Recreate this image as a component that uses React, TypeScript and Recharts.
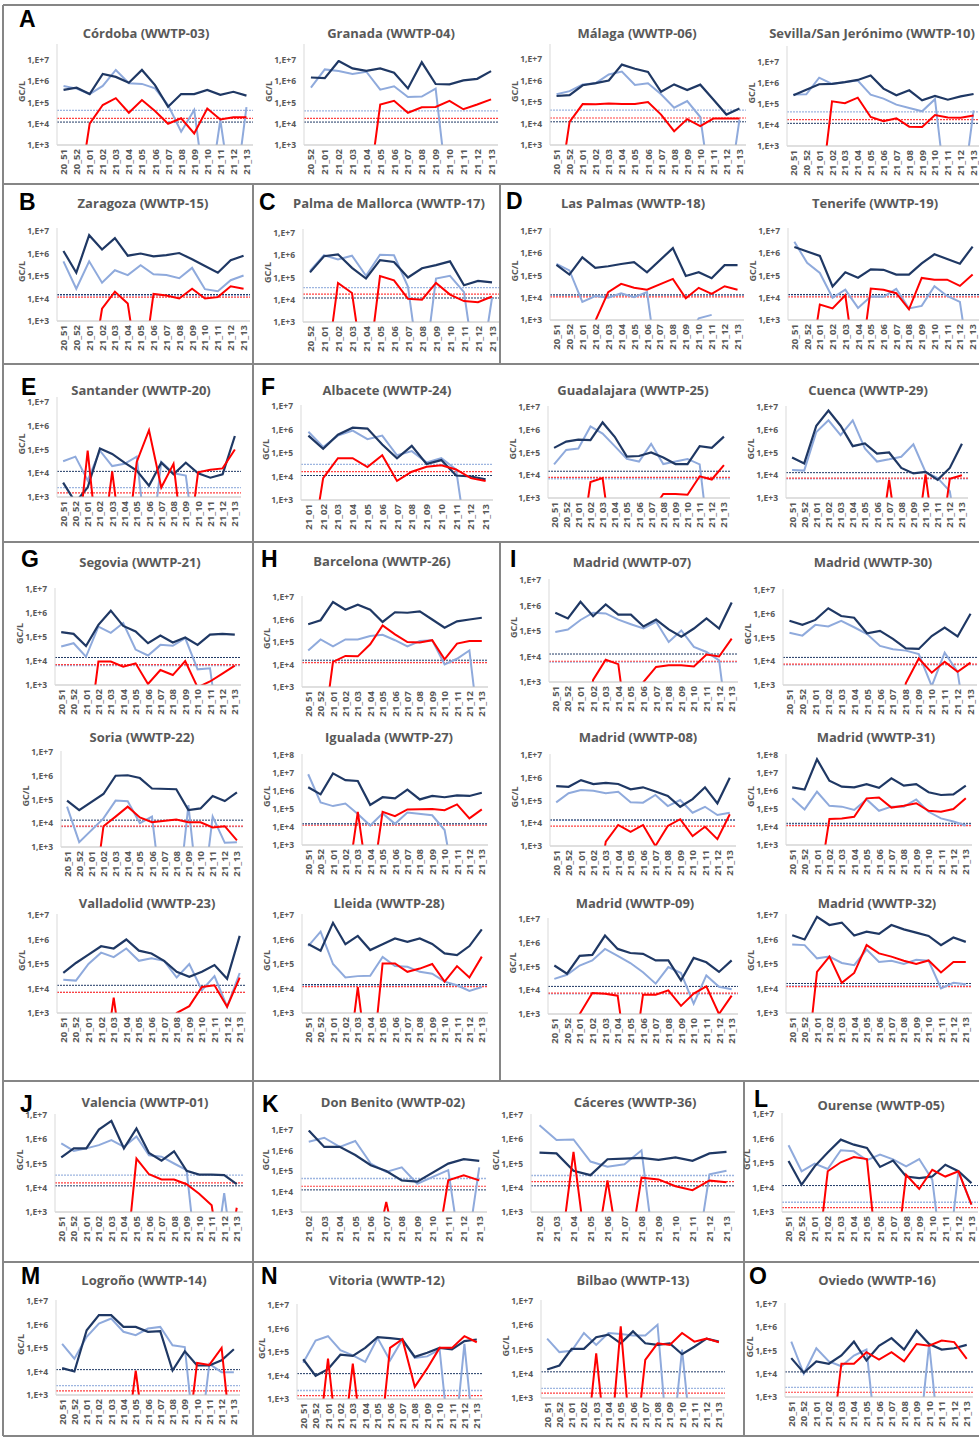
import { Line, LineChart, ReferenceLine, XAxis, YAxis } from 'recharts';

// Below the detection limit: drawn off the foot of the log axis, as in the original figure.
const Z = 1;

const WEEKS = ['20_51', '20_52', '21_01', '21_02', '21_03', '21_04', '21_05', '21_06', '21_07', '21_08', '21_09', '21_10', '21_11', '21_12', '21_13'];
const WEEKS_52 = WEEKS.slice(1);
const WEEKS_01 = WEEKS.slice(2);
const WEEKS_02 = WEEKS.slice(3);

// limits = [navy, blue, red] quantification limits (dotted lines)
const cordobaNavy = [3.9e5, 5e5, 2.5e5, 2.2e6, 1.6e6, 8.5e5, 3.4e6, 6.6e5, 6.3e4, 2.5e5, 2.5e5, 3.9e5, 2.3e5, 3.2e5, 2.1e5];
const cordobaBlue = [6e5, 4.5e5, 2.5e5, 6e5, 3.4e6, 8e5, 7.5e5, 4.6e5, 7.5e4, 4.2e3, 4.5e4, Z, 1.5e4, Z, 6e4];
const cordobaRed = [Z, Z, 1e4, 7.6e4, 1.6e5, 3.3e4, 1.3e5, 4e4, 1e4, 1.8e4, 3.5e3, 5.2e4, 1.6e4, 2e4, 2e4];
const cordobaLimits = [1.2e4, 4.3e4, 1.8e4];

const granadaNavy = [1.5e6, 1.4e6, 9e6, 4e6, 3.1e6, 4e6, 2.5e6, 4.6e5, 7.8e6, 7.4e5, 7.2e5, 1.1e6, 1.3e6, 3e6];
const granadaBlue = [5e5, 3.6e6, 3e6, 2.2e6, 2.8e6, 4e5, 5.8e5, 1.8e5, 1.9e5, 4.5e5, Z, null, null, null];
const granadaRed = [Z, Z, Z, Z, Z, 8e4, 1.2e5, 3.3e4, 6e4, 6.2e4, 1.2e5, 4.8e4, 8e4, 1.4e5];
const granadaLimits = [1.2e4, 4e4, 1.8e4];

const malagaNavy = [1.9e5, 2.1e5, 6e5, 7.5e5, 1e6, 5.5e6, 3.5e6, 2.5e6, 3e5, 6.6e5, 3.6e5, 6.4e5, 1.3e5, 2.6e4, 5e4];
const malagaBlue = [2.3e5, 3.2e5, 6.5e5, 7.5e5, 1.9e6, 2.6e6, 6.2e5, 7.5e5, 2.3e5, 5.4e4, 1.1e5, 2e4, Z, Z, 1.5e4];
const malagaRed = [Z, 1.2e4, 8e4, 7.8e4, 8.5e4, 8e4, 8e4, 1e5, 2.6e4, 4.4e3, 1.6e4, 7.5e3, 1.7e4, 1.7e4, 1.7e4];
const malagaLimits = [1.2e4, 4.2e4, 1.8e4];

const sevillaNavy = [2.6e5, 4.8e5, 8.7e5, 9e5, 1.1e6, 1.4e6, 2.3e6, 5.4e5, 2.6e5, 4.5e5, 1.5e5, 2.4e5, 1.6e5, 2.3e5, 3e5];
const sevillaBlue = [2.8e5, 2.9e5, 1.8e6, 9e5, 1.1e6, 1.3e6, 2.8e5, 1.8e5, 9.3e4, 6.5e4, 4.5e4, 1.7e5, Z, Z, 5e4];
const sevillaRed = [Z, Z, Z, 1.35e5, 1.1e5, 2e5, 2.4e4, 1.5e4, 2.1e4, 8.3e3, 8e3, 3e4, 2.3e4, 2.2e4, 2.8e4];
const sevillaLimits = [1.2e4, 4.2e4, 1.8e4];

const zaragozaNavy = [1.3e6, 1.4e5, 6.5e6, 1.5e6, 4.8e6, 8e5, 1e6, 7.5e5, 8.5e5, 1.05e6, 5.5e5, 2.8e5, 1.4e5, 5e5, 8e5];
const zaragozaBlue = [4.5e5, 2.7e4, 4.5e5, 5e4, 1.8e5, 1.1e5, 3e5, 1.2e5, 1.1e5, 8e4, 2.3e5, 2.6e4, 2.1e4, 6.5e4, 1.05e5];
const zaragozaRed = [Z, Z, Z, 3.5e3, 2e4, 6e3, Z, 1.6e4, 1.35e4, 1e4, 2.7e4, 1e4, 1.15e4, 3.5e4, 2.7e4];
const zaragozaLimits = [1.5e4, 1.35e4, 1.15e4];

const palmaNavy = [1.7e5, 9e5, 1.1e6, 2.7e5, 9e4, 6e5, 5e5, 1e5, 2.6e5, 3.6e5, 5.3e5, 4.5e4, 7e4, 6e4];
const palmaBlue = [2e5, 1e6, 6.5e5, 9.5e5, 1.2e5, 1.05e6, 1e6, 3.8e4, Z, 9e4, 1.2e5, 2.2e4, Z, 1.2e4];
const palmaRed = [Z, Z, 5.7e4, 2e4, Z, 1.15e5, 7.5e4, 1.1e4, 1e4, 5.7e4, 1.7e4, 8.7e3, 7.8e3, 1.4e4];
const palmaLimits = [1.2e4, 3.5e4, 1.8e4];

const lasPalmasNavy = [3e5, 1.1e5, 6.5e5, 2.2e5, 2.6e5, 3.3e5, 4e5, 1.4e5, null, 1.7e6, 9.5e4, 1.4e5, 7.5e4, 2.9e5, 2.9e5];
const lasPalmasBlue = [3.3e5, 1.7e5, 6.5e3, 1.2e4, 1e4, 1.6e4, 1.05e4, 1.8e4, Z, null, null, 1.2e3, 1.7e3, null, null];
const lasPalmasRed = [null, null, null, 9e2, 1.8e4, 4.2e4, 2.8e4, 2.3e4, null, 7e4, 9.5e3, 2.8e4, 1.5e4, 3.3e4, 2.3e4];
const lasPalmasLimits = [1.35e4, 1.3e4, 1.1e4];

const tenerifeNavy = [1.9e6, 1.2e6, 7.6e5, 3.2e4, 1.4e5, 8e4, 1.9e5, 1.8e5, 1.1e5, 1.1e5, 3.5e5, 9e5, 5.5e5, 3.4e5, 2e6];
const tenerifeBlue = [3.3e6, 3.7e5, 1.3e5, 1e4, 2.3e4, 3.5e3, 1.15e4, 1.1e4, 2.5e4, 3.3e3, 4.3e3, 3.3e4, 1.2e4, 6.5e3, Z];
const tenerifeRed = [null, Z, 5e3, 3.3e3, 1.3e4, Z, 2.6e4, 2.3e4, 1.6e4, 3e3, 7.8e4, 6.5e4, 6.5e4, 3.4e4, 1.1e5];
const tenerifeLimits = [1.4e4, 1.3e4, 1.1e4];

const santanderNavy = [4e3, 6e2, 2.5e3, 1.1e5, 6.5e4, 2.8e4, 1.3e4, 3e3, 2.8e4, 9e3, 2.8e4, 1e4, 6.5e3, 9e3, 3.7e5];
const santanderBlue = [3.2e4, 5e4, 5e3, 9e4, 2e4, 2.5e4, 5e4, Z, 3e4, 1e4, 8e3, Z, null, null, null];
const santanderRed = [Z, Z, 9e4, Z, 1.2e4, Z, 3e4, 6.5e5, 2.5e3, 2.5e4, Z, 1.1e4, 1.4e4, 1.6e4, 1e5];
const santanderLimits = [1.2e4, 2.5e3, 1.5e3];

const albaceteNavy = [5.5e5, 1.5e5, 6e5, 1.2e6, 1.1e6, 2.3e5, 5.9e4, 2e5, 3.4e4, 5e4, 1.1e4, 1e4, 7.5e3];
const albaceteBlue = [8e5, 1.8e5, 5.5e5, 9e5, 3.9e5, 5.5e5, 8e4, 1.2e5, 4e4, 6e4, 2e4, Z, null];
const albaceteRed = [Z, 8.5e3, 6e4, 6e4, 2.5e4, 8e4, 6.5e3, 1.6e4, 2.6e4, 3e4, 2e4, 8.5e3, 6.5e3];
const albaceteLimits = [1.1e4, 3.3e4, 1.6e4];

const guadalajaraNavy = [1.6e5, 3e5, 3.7e5, 3.5e5, 2.1e6, 4.9e5, 6.6e4, 7e4, 1e5, 6e4, 3.1e4, 3.1e4, 1.9e5, 1.6e5, 5e5];
const guadalajaraBlue = [3e4, 1.3e5, 1.5e5, 1.4e6, 6.8e5, 1.9e5, 5.2e4, 4e4, 2.4e5, 3.1e4, 4e4, 5.2e4, 3e4, Z, null];
const guadalajaraRed = [null, null, Z, 5e3, 7.5e3, Z, null, null, null, 1.5e3, 1.5e3, 1.4e3, 9e3, 6.5e3, 2.8e4];
const guadalajaraLimits = [1.5e4, 7e3, 8e3];

const cuencaNavy = [6e4, 3.3e4, 1.5e6, 7e6, 1.5e6, 1.9e5, 2.5e5, 9e4, 1e5, 2.1e4, 1.2e4, 1.4e4, 6.3e3, 2.1e4, 2.4e5];
const cuencaBlue = [1.7e4, 1.6e4, 8e5, 2.6e6, 5.8e5, 2.6e6, 1.5e5, 4e4, 5e4, 6.5e4, 2.3e5, 1.4e4, 7.5e3, 2e3, Z];
const cuencaRed = [Z, Z, Z, Z, Z, Z, Z, Z, 6.3e3, Z, Z, 1.1e4, Z, 7e3, 1e4];
const cuencaLimits = [1.3e4, 7e3, 7.5e3];

const segoviaNavy = [1.6e5, 1.35e5, 4.2e4, 3.2e5, 1.25e6, 2.9e5, 1.7e5, 5.5e4, 1.15e5, 5.9e4, 9.5e4, 4.7e4, 1.25e5, 1.35e5, 1.25e5];
const segoviaBlue = [4e4, 5.5e4, 1.5e4, 2.7e5, 1.5e5, 3.8e5, 3e4, 1.7e4, 4.7e4, 4.3e4, 9e4, 4.5e3, 5e3, Z, null];
const segoviaRed = [null, null, Z, 9.5e3, 9.5e3, 5.8e3, 8e3, 1.1e3, 4.2e3, 2.6e3, 1e4, 8e2, 1.4e3, 3e3, 6.4e3];
const segoviaLimits = [1.4e4, 6.5e3, 7e3];

const soriaNavy = [9e4, 3.55e4, null, 1.7e5, 1e6, 1.05e6, 8e5, 2.9e5, null, 2.7e5, 3.6e4, 4.2e4, 1.4e5, 8.6e4, 2e5];
const soriaBlue = [5e4, 1.6e3, null, 1.6e4, 9e4, 8.5e4, 1e4, 1.9e4, Z, Z, 5.8e4, Z, 1.9e4, 1.5e3, 1.6e3];
const soriaRed = [null, null, Z, 7.5e3, 1.9e4, 5e4, 1.75e4, 1.1e4, null, 1.45e4, 1.1e4, 1.1e4, 6.6e3, 7.5e3, 1.9e3];
const soriaLimits = [1.35e4, 7.2e3, 7.5e3];

const valladolidNavy = [4.3e4, 1.1e5, 2.4e5, 5.3e5, 4.3e5, 1e6, 3.5e5, 2.7e5, 1.35e5, 4.8e4, 3e4, 4.8e4, 9e4, 2.5e4, 1.4e6];
const valladolidBlue = [2.3e4, 2.1e4, 1e5, 2.9e5, 1.9e5, 4.3e5, 1.35e5, 1.7e5, 1.35e5, 2.8e4, 1e5, 8.5e3, 3.2e4, 1.8e3, 4.3e4];
const valladolidRed = [Z, Z, Z, Z, 4.2e3, Z, Z, Z, Z, 1e3, 1.9e3, 1.15e4, 1.35e4, 1.8e3, 2.8e4];
const valladolidLimits = [1.35e4, 7e3, 7e3];

const barcelonaNavy = [6.1e5, 9.3e5, 6e6, 2.7e6, 4.5e6, 2.7e6, 7.8e5, 2.1e6, 2e6, 2.3e6, 1e6, 4.3e5, 8.3e5, 1e6, 1.2e6];
const barcelonaBlue = [4.2e4, 1.3e5, 6.4e4, 1.3e5, 1.3e5, 1.85e5, 2.1e5, 1.2e5, 6.4e4, 1.1e5, 1.2e5, 1e4, 1.8e4, 4.2e4, Z];
const barcelonaRed = [Z, Z, 1.3e4, 2.4e4, 2.3e4, 7.9e4, 5.5e5, 2.2e5, 1e5, 9.4e4, 1.2e5, 1.7e4, 8.5e4, 1.1e5, 1.1e5];
const barcelonaLimits = [1.55e4, 1.25e4, 1.2e4];

const igualadaNavy = [1.6e6, 6.5e5, 9.5e6, 4e6, 3.6e6, 1.7e5, 4.5e5, 3.9e5, 1.2e6, 3.4e5, 5.3e5, 4.5e5, 5.7e5, 5.3e5, 8e5];
const igualadaBlue = [8.5e6, 2.3e5, 1.45e5, 2e5, 5.3e4, 1.2e4, 5.7e4, 1.5e4, 6.3e4, null, 4.5e4, 6.8e3, Z, null, null];
const igualadaRed = [Z, Z, Z, Z, 7e4, Z, 7e4, 4e4, 9.5e4, null, 1e5, 8.5e4, 1.8e5, 3e4, 9.5e4];
const igualadaLimits = [1.5e4, 1.5e4, 1.25e4];

const lleidaNavy = [6.6e5, 3.5e5, 4.8e6, 6.4e5, 1.4e6, 3.7e5, 6.4e5, 1.1e6, 8e5, 1.1e6, 6.6e5, 2.7e5, 2.3e5, 5.4e5, 2.6e6];
const lleidaBlue = [5.4e5, 2.1e6, 1e5, 2.8e4, 3.2e4, 3.3e4, 1.95e5, 8.2e4, 7.7e4, 4.8e4, 4e4, 1.9e4, 1.35e4, 8e3, 1.15e4];
const lleidaRed = [Z, Z, Z, Z, 1.15e4, Z, 1.05e5, 1.05e5, 4.8e4, 6.5e4, 1e5, 1.9e4, 8.2e4, 2.8e4, 2e5];
const lleidaLimits = [1.45e4, 1.35e4, 1.2e4];

const madrid07Navy = [5.2e5, 3.1e5, 1.4e6, 3.8e5, 1.1e6, 4.4e5, 4.4e5, 1.5e5, 2.8e5, 1.15e5, 6e4, 1.25e5, 3.1e5, 1.25e5, 1.3e6];
const madrid07Blue = [9.2e4, 1.15e5, 2.7e5, 5.2e5, 4.9e5, 2.8e5, 1.85e5, 1.25e5, 2.3e5, 3.7e4, 1.05e5, 2.4e4, 1.5e4, 7e3, Z];
const madrid07Red = [null, Z, Z, 1.2e3, 7.5e3, 5e3, Z, 1e3, 3.9e3, 4.5e3, 4.5e3, 4.1e3, 1.2e4, 1e4, 5e4];
const madrid07Limits = [1.25e4, 6e3, 6.5e3];

const madrid30Navy = [5.1e5, 3.4e5, 5.5e5, 1.7e6, 8e5, 6.8e5, 1.5e5, 1.9e5, 8.7e4, 3.5e4, 3.3e4, 1.15e5, 2.6e5, 1.1e5, 1e6];
const madrid30Blue = [1.6e5, 1.2e5, 3.4e5, 2.9e5, 5e5, 2.7e5, 1.4e5, 4.4e4, 3.2e4, 2.8e4, 2e4, 9e2, 2.3e4, 3.6e3, Z];
const madrid30Red = [Z, Z, Z, Z, Z, Z, Z, Z, Z, 1.2e3, 1.3e4, 3.3e3, 9.6e3, 3.6e3, 8.7e3];
const madrid30Limits = [1.45e4, 7e3, 7.5e3];

const madrid08Navy = [4.3e5, 4e5, 7.9e5, 5.3e5, 6e5, 5.3e5, 3.1e5, 3.8e5, 2.5e5, 1.6e5, 5.3e4, 1.15e5, 3.8e5, 7.5e4, 1e6];
const madrid08Blue = [8.3e4, 2.1e5, 2.9e5, 2.7e5, 2.1e5, 2.4e5, 8.3e4, 8e4, 1.75e5, 5.7e4, 1.05e5, 2.9e4, 5.3e4, 2.3e4, 2.9e4];
const madrid08Red = [null, null, null, Z, 1.55e3, 8.4e3, 4.2e3, 8.4e3, 1e3, 7.6e3, 1.5e4, 2.75e3, 7e3, 2e3, 2.5e4];
const madrid08Limits = [1.4e4, 1.35e4, 7.5e3];

const madrid31Navy = [1.6e6, 1.2e6, 5.8e7, 3.7e6, 1.75e6, 1.6e6, 2.4e6, 1.5e6, 5e6, 2e6, 2.4e6, 8.5e5, 6e5, 6.5e5, 2e6];
const madrid31Blue = [3.9e5, 9.5e4, 9.1e5, 1.5e5, 1.35e5, 8.8e4, 3.4e5, 8e4, 1.35e5, 1.35e5, 3.4e5, 7e4, 3e4, 2e4, 1.2e4];
const madrid31Red = [null, null, Z, 2.8e4, 3e4, 3.7e4, 3.9e5, 4.4e5, 1.2e5, 1.5e5, 2.1e5, 8e4, 7e4, 1e5, 3.9e5];
const madrid31Limits = [1.6e4, 1.3e4, 1.2e4];

const madrid09Navy = [1.1e5, 5e4, 2.8e5, 3.1e5, 2e6, 5.5e5, 3.7e5, 3.4e5, 1.8e5, 1.8e5, 2.6e4, 2.3e5, 1.5e5, 5.9e4, 1.8e5];
const madrid09Blue = [3e4, 4.5e4, 1.1e5, 1.8e5, 5.5e5, 2.8e5, 1.4e5, 5.7e4, 1.9e4, 9.5e4, 5.3e4, 2.7e3, 4.2e4, 1.4e4, 1.1e4];
const madrid09Red = [null, Z, 1e3, 7.7e3, 7.2e3, 5.9e3, Z, 6.5e3, 6.5e3, 9.9e3, 2.2e3, 7.2e3, 1.45e4, 1e3, 5.9e3];
const madrid09Limits = [1.45e4, 7e3, 7.5e3];

const madrid32Navy = [1.5e6, 1e6, 8.5e6, 3.9e6, 4.9e6, 1.45e6, 2.1e6, 1.7e6, 3.9e6, 2.6e6, 1.9e6, 1.4e6, 5.9e5, 1.2e6, 8e5];
const madrid32Blue = [6.3e5, 5.9e5, 1.7e5, 2e5, 1.1e5, 9e4, 3.9e5, 1.2e5, 1.35e5, 1e5, 1.5e5, 1.35e5, 1e4, 1.7e4, 1.5e4];
const madrid32Red = [null, Z, 4.8e4, 2e5, 1.7e4, 4.3e4, 5.9e5, 2.7e5, 2e5, 1.35e5, 1e5, 1.4e5, 4.5e4, 1.2e5, 1.2e5];
const madrid32Limits = [1.6e4, 1.3e4, 1.2e4];

const valenciaNavy = [1.8e5, 4.2e5, 4.2e5, 2.5e6, 5.7e6, 4.2e5, 2.8e6, 2.7e5, 1.3e5, 3.2e5, 5e4, 3.5e4, 3.5e4, 3.3e4, 1.4e4];
const valenciaBlue = [6.7e5, 3.3e5, 4.2e5, 5.7e5, 9.3e5, 4.9e5, 1.3e6, 2.2e5, 1.9e5, 1e5, 5.3e4, Z, Z, 6e3, Z];
const valenciaRed = [null, null, null, null, null, Z, 1.6e5, 3.6e4, 2.2e4, 2.2e4, 1.4e4, 5.7e3, 1.9e3, Z, 1.5e3];
const valenciaLimits = [1.2e4, 3.3e4, 1.6e4];

const donBenitoNavy = [9.5e6, 1.5e6, 1.5e6, 6e5, 1.9e5, 1e5, 3.5e4, 3e4, null, 2.3e5, 3.8e5, 3.1e5];
const donBenitoBlue = [2.7e6, 4.2e6, 1.5e6, 2.9e6, 2.3e5, 9.1e4, 1.5e5, 2.4e4, null, 1.1e5, Z, 1.5e5];
const donBenitoRed = [Z, Z, Z, Z, Z, 3.1e3, Z, Z, Z, 3.5e4, 6.2e4, 3.5e4];
const donBenitoLimits = [1.2e4, 4.3e4, 1.8e4];

const caceresNavy = [2.8e5, 2.6e5, 5e4, 3.3e4, 1.5e5, 1.6e5, 1.7e5, 1.4e5, 1.8e5, 1.3e5, 2.6e5, 3e5];
const caceresBlue = [3.8e6, 9.3e5, 9.8e5, 1.2e5, 7.3e4, 9.3e4, 3.5e5, Z, null, Z, 3.6e4, 5e4];
const caceresRed = [Z, Z, 3e5, Z, 2e4, Z, 2.6e4, 2.2e4, 1.15e4, 7.9e3, 2e4, 1.7e4];
const caceresLimits = [1.2e4, 3.2e4, 1.8e4];

const ourenseNavy = [1.2e5, 1.3e4, 7.3e4, 2.7e5, 9e5, 5.6e5, 4.1e5, 6.9e4, 1.25e5, 2.8e4, 2.4e4, 2.8e4, 8.5e4, 4.6e4, 1.5e4];
const ourenseBlue = [5.3e5, 4.6e4, 9.4e4, 5.7e4, 3.3e5, 3e5, 1.3e5, 2.2e5, 1.4e5, 7.3e4, 1.45e5, 2.1e4, Z, 4.5e4, 2e3];
const ourenseRed = [null, null, Z, 4.6e4, 1.07e5, 1.75e5, 1.45e5, Z, Z, 3.3e4, 8.7e3, 5.3e4, 2.8e4, 4.6e4, 2e3];
const ourenseLimits = [1.2e4, 2.5e3, 1.5e3];

const logronoNavy = [1.4e4, 1e4, 5.7e5, 2.5e6, 2.5e6, 7.9e5, 7.9e5, 4.9e5, 5.2e5, 1.1e4, 7.2e4, 1.8e4, 1.8e4, 3e4, 8.8e4];
const logronoBlue = [1.5e5, 3.5e4, 3e5, 1.1e6, 1.8e6, 4.9e5, 3.5e5, 6.7e5, 7.9e5, 1.3e5, 1.1e5, Z, 2.1e4, 9.4e3, 9.4e3];
const logronoRed = [Z, Z, Z, Z, Z, Z, 1.1e4, Z, Z, Z, Z, 2.3e4, 1.9e4, 1e5, Z];
const logronoLimits = [1.2e4, 2.5e3, 1.5e3];

const vitoriaNavy = [4.9e4, 9.7e3, 1.85e4, 7.7e4, 6.8e4, 1.5e5, 4.3e5, 3.9e5, 3.4e5, 6.2e4, 9.3e4, 1.5e5, 1.3e5, 2.9e5, 3.4e5];
const vitoriaBlue = [3.5e4, 3.1e5, 4.7e5, 1.2e5, 7.2e4, 3.8e4, 3.9e5, 4.4e4, 3.4e5, 5.6e4, 6.5e4, 1.3e5, Z, 2.2e5, Z];
const vitoriaRed = [Z, Z, 5.2e4, Z, 3.2e4, Z, Z, 1.5e5, 3.5e5, 3.3e3, 2e4, 1.5e5, 1.5e5, 4.7e5, 2.6e5];
const vitoriaLimits = [1.2e4, 2.3e3, 1.4e3];

const bilbaoNavy = [1.5e4, 2.2e4, 1.07e5, 1.07e5, 3.2e5, 4.1e5, 1.8e5, 5.6e5, 1.8e5, 1.55e5, 1.8e5, 6.4e4, 1.3e5, 2.8e5, 2.1e5];
const bilbaoBlue = [2.8e5, 7.8e4, 8.8e4, 4.8e5, 1.55e5, 4.8e5, 4.4e5, 3.8e5, 3.8e5, 1.05e6, Z, 1e5, Z, null, null];
const bilbaoRed = [null, null, null, Z, 7e4, Z, 9e5, Z, 3.7e4, 1.8e5, 1.55e5, 4.8e5, 2.1e5, 2.8e5, 2e5];
const bilbaoLimits = [1.2e4, 2.5e3, 1.6e3];

const oviedoNavy = [4.7e4, 1.1e4, 3.4e4, 2.7e4, 6.1e4, 2.4e5, 3.7e4, 1.6e5, 3.4e5, 1.1e5, 7.2e5, 1.9e5, 1.1e5, 1.25e5, 1.75e5];
const oviedoBlue = [2.4e5, 1e4, 1.25e5, 3.4e4, 2.1e4, 6.1e4, 1.1e5, Z, Z, Z, Z, 2e5, Z, Z, Z];
const oviedoRed = [null, null, null, Z, 2.7e4, 2.7e4, 8.5e4, 4.1e4, 8.5e4, 3.4e4, 1.9e5, 1.6e5, 2.7e5, 2.3e5, 4.4e4];
const oviedoLimits = [1.2e4, 2.6e3, 1.6e3];

const NAVY = '#1F3864';
const BLUE = '#8FAADC';
const RED = '#FF0000';
const GREY_TEXT = '#595959';
const FONT = "'Open Sans', 'DejaVu Sans', sans-serif";

const Y_W = 44;
const X_H = 36;
const M_TOP = 6;

type Series = (number | null)[];

interface Box {
    axisX: number;
    right: number;
    top: number;
    tickTop: number;
    bottom: number;
    titleX: number;
    titleY: number;
    topExp?: number;
}

interface ChartSpec {
    title: string;
    weeks: string[];
    navy: Series;
    blue: Series;
    red: Series;
    limits: number[];
    box: Box;
}

const charts: ChartSpec[] = [
    { title: 'Córdoba (WWTP-03)', weeks: WEEKS, navy: cordobaNavy, blue: cordobaBlue, red: cordobaRed, limits: cordobaLimits,
        box: { axisX: 57, right: 253, top: 44, tickTop: 60, bottom: 145, titleX: 146, titleY: 38 } },
    { title: 'Granada (WWTP-04)', weeks: WEEKS_52, navy: granadaNavy, blue: granadaBlue, red: granadaRed, limits: granadaLimits,
        box: { axisX: 304, right: 498, top: 44, tickTop: 60, bottom: 145, titleX: 391, titleY: 38 } },
    { title: 'Málaga (WWTP-06)', weeks: WEEKS, navy: malagaNavy, blue: malagaBlue, red: malagaRed, limits: malagaLimits,
        box: { axisX: 550, right: 746, top: 44, tickTop: 59, bottom: 145, titleX: 637, titleY: 38 } },
    { title: 'Sevilla/San Jerónimo (WWTP-10)', weeks: WEEKS, navy: sevillaNavy, blue: sevillaBlue, red: sevillaRed, limits: sevillaLimits,
        box: { axisX: 787, right: 980, top: 46, tickTop: 62, bottom: 146, titleX: 872, titleY: 38 } },

    { title: 'Zaragoza (WWTP-15)', weeks: WEEKS, navy: zaragozaNavy, blue: zaragozaBlue, red: zaragozaRed, limits: zaragozaLimits,
        box: { axisX: 57, right: 250, top: 228, tickTop: 231, bottom: 321, titleX: 143, titleY: 208 } },
    { title: 'Palma de Mallorca (WWTP-17)', weeks: WEEKS_52, navy: palmaNavy, blue: palmaBlue, red: palmaRed, limits: palmaLimits,
        box: { axisX: 303, right: 499, top: 229, tickTop: 233, bottom: 322, titleX: 389, titleY: 208 } },
    { title: 'Las Palmas (WWTP-18)', weeks: WEEKS, navy: lasPalmasNavy, blue: lasPalmasBlue, red: lasPalmasRed, limits: lasPalmasLimits,
        box: { axisX: 550, right: 744, top: 228, tickTop: 231, bottom: 320, titleX: 633, titleY: 208 } },
    { title: 'Tenerife (WWTP-19)', weeks: WEEKS, navy: tenerifeNavy, blue: tenerifeBlue, red: tenerifeRed, limits: tenerifeLimits,
        box: { axisX: 788, right: 979, top: 228, tickTop: 231, bottom: 320, titleX: 875, titleY: 208 } },

    { title: 'Santander (WWTP-20)', weeks: WEEKS, navy: santanderNavy, blue: santanderBlue, red: santanderRed, limits: santanderLimits,
        box: { axisX: 57, right: 241, top: 397, tickTop: 402, bottom: 497, titleX: 141, titleY: 395 } },
    { title: 'Albacete (WWTP-24)', weeks: WEEKS_01, navy: albaceteNavy, blue: albaceteBlue, red: albaceteRed, limits: albaceteLimits,
        box: { axisX: 301, right: 493, top: 405, tickTop: 406, bottom: 500, titleX: 387, titleY: 395 } },
    { title: 'Guadalajara (WWTP-25)', weeks: WEEKS, navy: guadalajaraNavy, blue: guadalajaraBlue, red: guadalajaraRed, limits: guadalajaraLimits,
        box: { axisX: 548, right: 730, top: 406, tickTop: 407, bottom: 498, titleX: 633, titleY: 395 } },
    { title: 'Cuenca (WWTP-29)', weeks: WEEKS, navy: cuencaNavy, blue: cuencaBlue, red: cuencaRed, limits: cuencaLimits,
        box: { axisX: 786, right: 968, top: 406, tickTop: 407, bottom: 498, titleX: 868, titleY: 395 } },

    { title: 'Segovia (WWTP-21)', weeks: WEEKS, navy: segoviaNavy, blue: segoviaBlue, red: segoviaRed, limits: segoviaLimits,
        box: { axisX: 55, right: 241, top: 588, tickTop: 589, bottom: 685, titleX: 140, titleY: 567 } },
    { title: 'Barcelona (WWTP-26)', weeks: WEEKS, navy: barcelonaNavy, blue: barcelonaBlue, red: barcelonaRed, limits: barcelonaLimits,
        box: { axisX: 302, right: 488, top: 596, tickTop: 597, bottom: 687, titleX: 382, titleY: 566 } },
    { title: 'Madrid (WWTP-07)', weeks: WEEKS, navy: madrid07Navy, blue: madrid07Blue, red: madrid07Red, limits: madrid07Limits,
        box: { axisX: 549, right: 738, top: 579, tickTop: 580, bottom: 682, titleX: 632, titleY: 567 } },
    { title: 'Madrid (WWTP-30)', weeks: WEEKS, navy: madrid30Navy, blue: madrid30Blue, red: madrid30Red, limits: madrid30Limits,
        box: { axisX: 783, right: 977, top: 589, tickTop: 590, bottom: 685, titleX: 873, titleY: 567 } },

    { title: 'Soria (WWTP-22)', weeks: WEEKS, navy: soriaNavy, blue: soriaBlue, red: soriaRed, limits: soriaLimits,
        box: { axisX: 61, right: 243, top: 751, tickTop: 752, bottom: 847, titleX: 142, titleY: 742 } },
    { title: 'Igualada (WWTP-27)', weeks: WEEKS, navy: igualadaNavy, blue: igualadaBlue, red: igualadaRed, limits: igualadaLimits,
        box: { axisX: 302, right: 488, top: 754, tickTop: 755, bottom: 845, titleX: 389, titleY: 742, topExp: 8 } },
    { title: 'Madrid (WWTP-08)', weeks: WEEKS, navy: madrid08Navy, blue: madrid08Blue, red: madrid08Red, limits: madrid08Limits,
        box: { axisX: 550, right: 736, top: 754, tickTop: 755, bottom: 846, titleX: 638, titleY: 742 } },
    { title: 'Madrid (WWTP-31)', weeks: WEEKS, navy: madrid31Navy, blue: madrid31Blue, red: madrid31Red, limits: madrid31Limits,
        box: { axisX: 786, right: 972, top: 754, tickTop: 755, bottom: 845, titleX: 876, titleY: 742, topExp: 8 } },

    { title: 'Valladolid (WWTP-23)', weeks: WEEKS, navy: valladolidNavy, blue: valladolidBlue, red: valladolidRed, limits: valladolidLimits,
        box: { axisX: 57, right: 246, top: 914, tickTop: 915, bottom: 1013, titleX: 147, titleY: 908 } },
    { title: 'Lleida (WWTP-28)', weeks: WEEKS, navy: lleidaNavy, blue: lleidaBlue, red: lleidaRed, limits: lleidaLimits,
        box: { axisX: 302, right: 488, top: 914, tickTop: 915, bottom: 1013, titleX: 389, titleY: 908 } },
    { title: 'Madrid (WWTP-09)', weeks: WEEKS, navy: madrid09Navy, blue: madrid09Blue, red: madrid09Red, limits: madrid09Limits,
        box: { axisX: 548, right: 738, top: 918, tickTop: 919, bottom: 1014, titleX: 635, titleY: 908 } },
    { title: 'Madrid (WWTP-32)', weeks: WEEKS, navy: madrid32Navy, blue: madrid32Blue, red: madrid32Red, limits: madrid32Limits,
        box: { axisX: 786, right: 972, top: 914, tickTop: 915, bottom: 1013, titleX: 877, titleY: 908 } },

    { title: 'Valencia (WWTP-01)', weeks: WEEKS, navy: valenciaNavy, blue: valenciaBlue, red: valenciaRed, limits: valenciaLimits,
        box: { axisX: 55, right: 243, top: 1114, tickTop: 1115, bottom: 1212, titleX: 145, titleY: 1107 } },
    { title: 'Don Benito (WWTP-02)', weeks: WEEKS_02, navy: donBenitoNavy, blue: donBenitoBlue, red: donBenitoRed, limits: donBenitoLimits,
        box: { axisX: 301, right: 487, top: 1114, tickTop: 1130, bottom: 1212, titleX: 393, titleY: 1107 } },
    { title: 'Cáceres (WWTP-36)', weeks: WEEKS_02, navy: caceresNavy, blue: caceresBlue, red: caceresRed, limits: caceresLimits,
        box: { axisX: 531, right: 735, top: 1114, tickTop: 1115, bottom: 1212, titleX: 635, titleY: 1107 } },
    { title: 'Ourense (WWTP-05)', weeks: WEEKS, navy: ourenseNavy, blue: ourenseBlue, red: ourenseRed, limits: ourenseLimits,
        box: { axisX: 782, right: 978, top: 1113, tickTop: 1114, bottom: 1212, titleX: 881, titleY: 1110 } },

    { title: 'Logroño (WWTP-14)', weeks: WEEKS, navy: logronoNavy, blue: logronoBlue, red: logronoRed, limits: logronoLimits,
        box: { axisX: 56, right: 240, top: 1300, tickTop: 1301, bottom: 1395, titleX: 144, titleY: 1285 } },
    { title: 'Vitoria (WWTP-12)', weeks: WEEKS, navy: vitoriaNavy, blue: vitoriaBlue, red: vitoriaRed, limits: vitoriaLimits,
        box: { axisX: 297, right: 483, top: 1304, tickTop: 1305, bottom: 1399, titleX: 387, titleY: 1285 } },
    { title: 'Bilbao (WWTP-13)', weeks: WEEKS, navy: bilbaoNavy, blue: bilbaoBlue, red: bilbaoRed, limits: bilbaoLimits,
        box: { axisX: 541, right: 725, top: 1300, tickTop: 1301, bottom: 1398, titleX: 633, titleY: 1285 } },
    { title: 'Oviedo (WWTP-16)', weeks: WEEKS, navy: oviedoNavy, blue: oviedoBlue, red: oviedoRed, limits: oviedoLimits,
        box: { axisX: 785, right: 973, top: 1303, tickTop: 1304, bottom: 1397, titleX: 877, titleY: 1285 } },
];

const panelLetters = [
    { letter: 'A', x: 19, y: 27 },
    { letter: 'B', x: 19, y: 210 },
    { letter: 'C', x: 259, y: 210 },
    { letter: 'D', x: 506, y: 209 },
    { letter: 'E', x: 21, y: 395 },
    { letter: 'F', x: 261, y: 395 },
    { letter: 'G', x: 21, y: 567 },
    { letter: 'H', x: 261, y: 567 },
    { letter: 'I', x: 510, y: 567 },
    { letter: 'J', x: 20, y: 1112 },
    { letter: 'K', x: 262, y: 1112 },
    { letter: 'L', x: 754, y: 1107 },
    { letter: 'M', x: 21, y: 1284 },
    { letter: 'N', x: 261, y: 1284 },
    { letter: 'O', x: 749, y: 1284 },
];

// frame lines [x1, y1, x2, y2]
const frameLines = [
    [3, 5, 979, 5],
    [3, 5, 3, 1436],
    [3, 1436, 979, 1436],
    [3, 184, 979, 184],
    [3, 364, 979, 364],
    [3, 542, 979, 542],
    [3, 1081, 979, 1081],
    [3, 1262, 979, 1262],
    [253, 184, 253, 1436],
    [500, 184, 500, 364],
    [500, 542, 500, 1081],
    [744, 1081, 744, 1436],
];

const formatPower = (value: number) => `1,E+${Math.round(Math.log10(value))}`;

function WeekTick({ x, y, payload }: { x?: number; y?: number; payload?: { value: string } }) {
    return (
        <text
            x={x}
            y={y}
            transform={`rotate(-90 ${x} ${y})`}
            textAnchor="end"
            dominantBaseline="central"
            fontSize={9.5}
            fontWeight={700}
            fill={GREY_TEXT}
            fontFamily={FONT}
        >
            {payload?.value}
        </text>
    );
}

function WwtpChart({ spec }: { spec: ChartSpec }) {
    const { box } = spec;
    const topExp = box.topExp ?? 7;
    const ticks: number[] = [];
    for (let e = 3; e <= topExp; e++) ticks.push(10 ** e);

    const data = spec.weeks.map((week, i) => ({
        week,
        navy: spec.navy[i],
        blue: spec.blue[i],
        red: spec.red[i],
    }));

    const left = box.axisX - Y_W;
    const width = box.right - left;
    const height = M_TOP + box.bottom - box.top + X_H;
    const half = (box.right - box.axisX) / (2 * spec.weeks.length);

    return (
        <div style={{ position: 'absolute', left, top: box.top - M_TOP }}>
            <LineChart width={width} height={height} data={data} margin={{ top: M_TOP, right: 0, bottom: 0, left: 0 }}>
                <XAxis
                    dataKey="week"
                    interval={0}
                    height={X_H}
                    tick={<WeekTick />}
                    tickLine={false}
                    tickSize={3}
                    tickMargin={1}
                    axisLine={{ stroke: '#bfbfbf' }}
                    padding={{ left: half, right: half }}
                />
                <YAxis
                    type="number"
                    scale="log"
                    domain={[1e3, 10 ** topExp]}
                    ticks={ticks}
                    allowDataOverflow
                    width={Y_W}
                    padding={{ top: box.tickTop - box.top, bottom: 0 }}
                    tickFormatter={formatPower}
                    tick={{ fontSize: 8.5, fontWeight: 700, fill: GREY_TEXT, fontFamily: FONT }}
                    tickLine={false}
                    axisLine={{ stroke: '#d9d9d9' }}
                />
                <ReferenceLine y={spec.limits[1]} stroke="#9DB5E0" strokeWidth={1.3} strokeDasharray="2 1" />
                <ReferenceLine y={spec.limits[2]} stroke="#FF4040" strokeWidth={1.2} strokeDasharray="2 1" />
                <ReferenceLine y={spec.limits[0]} stroke={NAVY} strokeWidth={1} strokeDasharray="2 1" />
                <Line dataKey="blue" stroke={BLUE} strokeWidth={2} dot={false} connectNulls isAnimationActive={false} />
                <Line dataKey="navy" stroke={NAVY} strokeWidth={2.2} dot={false} connectNulls isAnimationActive={false} />
                <Line dataKey="red" stroke={RED} strokeWidth={2} dot={false} connectNulls isAnimationActive={false} />
            </LineChart>
        </div>
    );
}

export default function App() {
    return (
        <div style={{ position: 'absolute', left: 0, top: 0, width: 979, height: 1438, overflow: 'hidden', background: '#fff' }}>
            {charts.map((spec) => (
                <WwtpChart key={spec.title} spec={spec} />
            ))}
            <svg width={979} height={1438} style={{ position: 'absolute', left: 0, top: 0, pointerEvents: 'none' }}>
                {frameLines.map(([x1, y1, x2, y2], i) => (
                    <line key={i} x1={x1} y1={y1} x2={x2} y2={y2} stroke="#868686" strokeWidth={2} />
                ))}
                {panelLetters.map((p) => (
                    <text key={p.letter} x={p.x} y={p.y} fontSize={23} fontWeight={700} fill="#000" fontFamily="'Liberation Sans', Arial, sans-serif">
                        {p.letter}
                    </text>
                ))}
                {charts.map((spec) => (
                    <text
                        key={spec.title}
                        x={spec.box.titleX}
                        y={spec.box.titleY}
                        textAnchor="middle"
                        fontSize={13}
                        fontWeight={700}
                        fill={GREY_TEXT}
                        fontFamily={FONT}
                    >
                        {spec.title}
                    </text>
                ))}
                {charts.map((spec) => {
                    const cx = spec.box.axisX - 36;
                    const cy = (spec.box.top + spec.box.bottom) / 2 - 3;
                    return (
                        <text
                            key={`gcl-${spec.title}`}
                            x={cx}
                            y={cy}
                            transform={`rotate(-90 ${cx} ${cy})`}
                            textAnchor="middle"
                            dominantBaseline="central"
                            fontSize={9}
                            fontWeight={700}
                            fill={GREY_TEXT}
                            fontFamily={FONT}
                        >
                            GC/L
                        </text>
                    );
                })}
            </svg>
        </div>
    );
}
